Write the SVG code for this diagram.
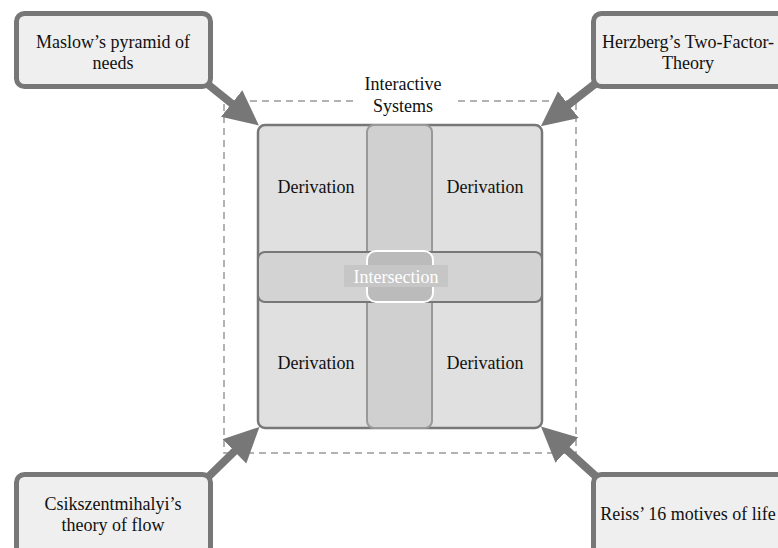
<svg xmlns="http://www.w3.org/2000/svg" width="778" height="548" viewBox="0 0 778 548" font-family="'Liberation Serif', 'DejaVu Serif', serif">
<style>
text{font-family:'Liberation Serif','DejaVu Serif',serif;font-size:18px;fill:#111;text-anchor:middle}
.node{fill:#efefef;stroke:#777;stroke-width:5}
.conn{stroke:#777;stroke-width:8;fill:none;marker-end:url(#ah)}
.cell{fill:#e0e0e0;stroke:#777;stroke-width:2.5}
</style>
<defs>
<marker id="ah" markerUnits="userSpaceOnUse" markerWidth="36" markerHeight="36" viewBox="0 0 36 36" refX="12" refY="18" orient="auto">
<path d="M0,1 L35,18 L0,35 z" fill="#777"/>
</marker>
</defs>
<rect width="778" height="548" fill="#fff"/>
<g id="system">
<path d="M353,101 H224 V453 H576 V101 H453" fill="none" stroke="#999" stroke-width="1.5" stroke-dasharray="7 5"/>
<text x="403" y="90">Interactive</text>
<text x="403" y="112">Systems</text>
</g>
<g id="square">
<rect class="cell" x="258" y="125" width="284" height="303" rx="7"/>
<rect x="367" y="125" width="65" height="303" rx="7" fill="#d0d0d0" stroke="#999" stroke-width="2"/>
<rect x="258" y="252" width="284" height="50" rx="7" fill="#d3d3d3" stroke="#777" stroke-width="2"/>
<rect x="367" y="251" width="66" height="51" rx="9" fill="#bbb" stroke="#fff" stroke-width="2"/>
<rect x="344" y="265" width="104" height="22" fill="#c6c6c6"/>
<text x="396" y="283" style="fill:#fff">Intersection</text>
</g>
<g id="d1"><text x="316" y="193">Derivation</text></g>
<g id="d2"><text x="485" y="193">Derivation</text></g>
<g id="d3"><text x="316" y="369">Derivation</text></g>
<g id="d4"><text x="485" y="369">Derivation</text></g>
<g id="connectors">
<line class="conn" x1="200" y1="78" x2="241" y2="111"/>
<line class="conn" x1="600" y1="80" x2="559" y2="112"/>
<line class="conn" x1="202" y1="483" x2="243" y2="443"/>
<line class="conn" x1="600" y1="480" x2="558" y2="442"/>
</g>
<g id="maslow">
<rect class="node" x="16.5" y="13.5" width="194" height="73" rx="8"/>
<text x="113" y="48">Maslow’s pyramid of</text>
<text x="113" y="69">needs</text>
</g>
<g id="herzberg">
<rect class="node" x="593.5" y="13.5" width="200" height="73" rx="8"/>
<text x="688" y="48">Herzberg’s Two-Factor-</text>
<text x="688" y="69">Theory</text>
</g>
<g id="csikszentmihalyi">
<rect class="node" x="16.5" y="474.5" width="194" height="90" rx="8"/>
<text x="113" y="510">Csikszentmihalyi’s</text>
<text x="113" y="531">theory of flow</text>
</g>
<g id="reiss">
<rect class="node" x="593.5" y="474.5" width="200" height="90" rx="8"/>
<text x="688" y="520">Reiss’ 16 motives of life</text>
</g>
</svg>
